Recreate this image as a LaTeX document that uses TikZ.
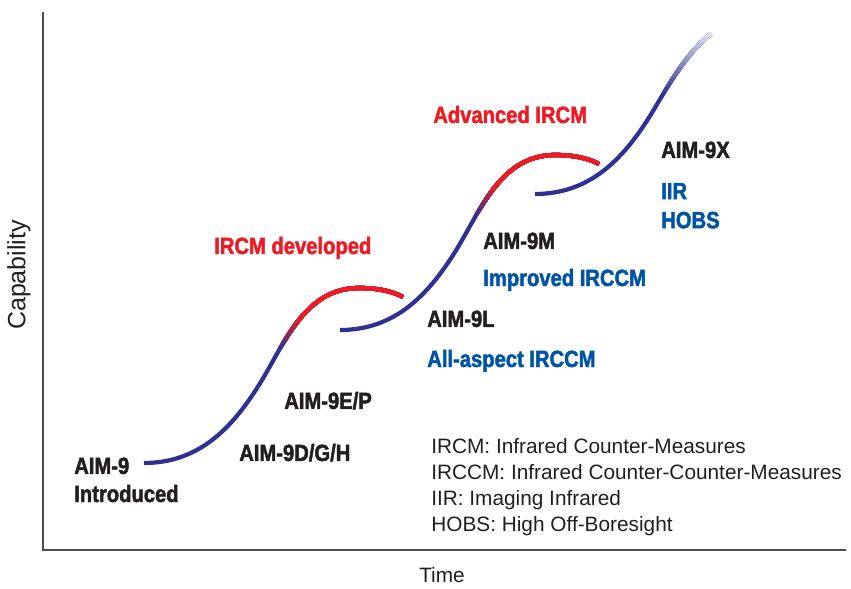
\documentclass[tikz,border=0pt]{standalone}
\usepackage{fontspec}
\setmainfont{Liberation Sans}
\newfontfamily\condfont[FakeStretch=0.86,BoldFeatures={FakeBold=2}]{Liberation Sans}
\usetikzlibrary{positioning}

\definecolor{curveblue}{HTML}{2E3192}
\definecolor{ircmred}{HTML}{ED1C24}
\definecolor{irccmblue}{HTML}{0054A6}
\definecolor{labelblack}{HTML}{231F20}
\definecolor{axisgray}{HTML}{4D4D4D}

% one step of the capability curve, drawn from its own origin
\newcommand\capstep{(0,0) .. controls (55,0) and (88,-35) .. (115,-78)
  .. controls (140,-118) and (160,-175) .. (215,-175)
  .. controls (235,-175) and (250,-171) .. (259,-166)}
% the last step only climbs
\newcommand\capclimb{(0,0) .. controls (55,0) and (88,-35) .. (115,-78)
  .. controls (132,-106) and (150,-140) .. (176,-160)}

\tikzset{
  missile/.style={anchor=base west, inner sep=0pt, text=labelblack,
    font=\condfont\bfseries\fontsize{16.7}{19}\selectfont},
  ircm/.style={missile, text=ircmred},
  irccm/.style={missile, text=irccmblue},
  curveline/.style={line width=3pt}
}

\begin{document}
\begin{tikzpicture}[x=0.025cm, y=-0.025cm]
  \useasboundingbox (0,0) rectangle (851,589);

  % Axes
  \draw[axisgray, line width=1.1pt] (43,12) -- (43,550) -- (846,550);
  \node[rotate=90, inner sep=0pt, text=labelblack,
        font=\fontsize{17.8}{20}\selectfont] (capability) at (19,275) {Capability};
  \node[anchor=base west, inner sep=0pt, text=labelblack,
        font=\fontsize{14.8}{18}\selectfont] (time) at (419,583) {Time};

  % First two steps turn red at the top
  \foreach \sx/\sy in {144/463, 340/330} {
    \begin{scope}[shift={(\sx,\sy)}]
      \draw[curveline, curveblue] \capstep;
      \foreach \i in {1,...,12} {
        \begin{scope}
          \clip (-20,-112-2.5*\i) rectangle (300,-200);
          \pgfmathtruncatemacro\mix{100*\i/12}
          \draw[curveline, ircmred!\mix!curveblue] \capstep;
        \end{scope}
      }
    \end{scope}
  }

  % Last step fades out
  \begin{scope}[shift={(535,194)}]
    \draw[curveline, curveblue] \capclimb;
    \foreach \i in {1,...,12} {
      \begin{scope}
        \clip (-20,-97-5*\i) rectangle (300,-200);
        \pgfmathtruncatemacro\mix{100-7*\i}
        \draw[curveline, curveblue!\mix!white] \capclimb;
      \end{scope}
    }
  \end{scope}

  % Labels
  \node[missile] (aim9) at (74,474) {AIM-9};
  \node[missile, below=0.7cm of aim9.base west, anchor=base west] (introduced) {Introduced};
  \node[missile] (aim9dgh) at (239,461) {AIM-9D/G/H};
  \node[missile] (aim9ep) at (284,409) {AIM-9E/P};
  \node[ircm] (ircmdev) at (214,254) {IRCM developed};
  \node[missile] (aim9l) at (427,327) {AIM-9L};
  \node[irccm, below=1cm of aim9l.base west, anchor=base west] (allaspect) {All-aspect IRCCM};
  \node[missile] (aim9m) at (483,249) {AIM-9M};
  \node[irccm, below=0.925cm of aim9m.base west, anchor=base west] (improved) {Improved IRCCM};
  \node[ircm] (advircm) at (433,123) {Advanced IRCM};
  \node[missile] (aim9x) at (661,158) {AIM-9X};
  \node[irccm, below=1.03cm of aim9x.base west, anchor=base west] (iir) {IIR};
  \node[irccm, below=0.725cm of iir.base west, anchor=base west] (hobs) {HOBS};

  % Abbreviations
  \node[anchor=north west, inner sep=0pt, align=left, text=labelblack,
        font=\fontsize{14.8}{18.6}\selectfont] (legend) at (431,438)
    {IRCM: Infrared Counter-Measures\\
     IRCCM: Infrared Counter-Counter-Measures\\
     IIR: Imaging Infrared\\
     HOBS: High Off-Boresight};
\end{tikzpicture}
\end{document}
